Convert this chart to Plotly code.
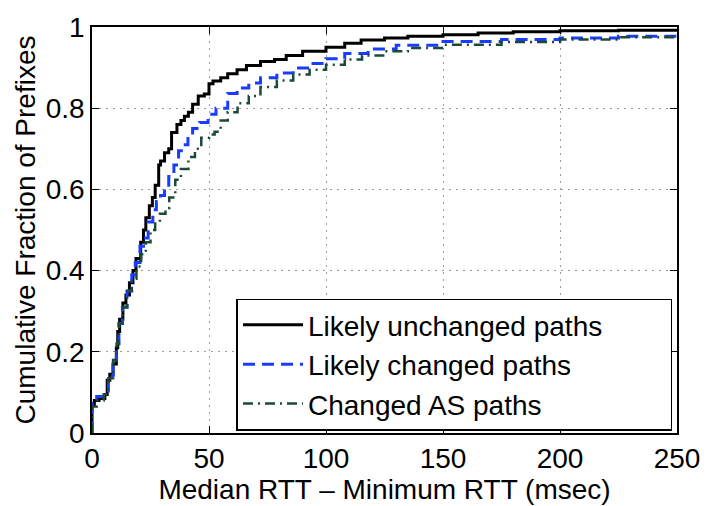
import plotly.graph_objects as go

# Median RTT minus minimum RTT (msec) and cumulative fraction of prefixes
unchanged_x = [0, 0, 1, 3, 5.5, 6.5, 7.6, 9, 10.4, 11, 11.8, 13.2, 14.5, 16, 17.5, 18.8,
               20.8, 22, 23, 24.5, 25.8, 27, 28.5, 29.3, 31, 32.8, 34, 36.3, 38, 39.5,
               41.2, 43, 45.4, 48, 50, 51.7, 55, 58, 62, 66, 72, 78, 83, 90, 100, 108,
               115, 125, 135, 150, 165, 180, 200, 225, 250]
unchanged_y = [0, 0.07, 0.08, 0.085, 0.095, 0.13, 0.145, 0.17, 0.21, 0.25, 0.28, 0.32,
               0.34, 0.37, 0.40, 0.43, 0.47, 0.50, 0.53, 0.56, 0.58, 0.61, 0.66, 0.67,
               0.69, 0.70, 0.74, 0.76, 0.77, 0.78, 0.79, 0.81, 0.83, 0.835, 0.86, 0.867,
               0.875, 0.885, 0.895, 0.905, 0.915, 0.92, 0.93, 0.94, 0.95, 0.96, 0.968,
               0.973, 0.977, 0.981, 0.985, 0.988, 0.991, 0.992, 0.993]

changed_x = [0, 0, 2, 5, 7, 9, 10.5, 11.5, 13, 15, 17, 18.5, 20.5, 22, 24, 26, 27.5,
             29.3, 31, 32.8, 35, 37, 39, 41, 43, 46, 49.6, 53, 58, 62, 67, 72, 79, 86,
             93, 100, 108, 118, 130, 150, 175, 200, 225, 250]
changed_y = [0, 0.08, 0.09, 0.10, 0.14, 0.18, 0.22, 0.27, 0.31, 0.35, 0.39, 0.42, 0.46,
             0.48, 0.52, 0.55, 0.57, 0.585, 0.61, 0.632, 0.66, 0.695, 0.71, 0.73, 0.75,
             0.765, 0.785, 0.80, 0.836, 0.85, 0.862, 0.875, 0.887, 0.899, 0.91, 0.922,
             0.935, 0.946, 0.955, 0.964, 0.969, 0.973, 0.977, 0.981]

as_x = [0, 0, 2, 5, 7, 9, 10.5, 11.5, 13, 15, 17, 19, 21, 23, 25, 27, 29, 31.4, 33,
        35.6, 38, 41.2, 44, 46.7, 50, 52.4, 55, 58, 62.2, 67, 72, 79, 86, 93, 100, 108,
        115.4, 125, 135, 150.4, 175, 200, 225, 250]
as_y = [0, 0.065, 0.08, 0.095, 0.135, 0.18, 0.22, 0.27, 0.31, 0.35, 0.38, 0.41, 0.44,
        0.47, 0.50, 0.52, 0.54, 0.554, 0.58, 0.624, 0.65, 0.68, 0.70, 0.727, 0.735,
        0.742, 0.77, 0.79, 0.812, 0.83, 0.852, 0.868, 0.883, 0.895, 0.907, 0.92, 0.93,
        0.94, 0.948, 0.956, 0.963, 0.969, 0.975, 0.981]

x_ticks = [0, 50, 100, 150, 200, 250]
y_ticks = [0, 0.2, 0.4, 0.6, 0.8, 1]
y_labels = ["0", "0.2", "0.4", "0.6", "0.8", "1"]

FONT = "Liberation Sans, Arial, Helvetica, sans-serif"
FS = 28

fig = go.Figure()
fig.add_trace(go.Scatter(x=unchanged_x, y=unchanged_y, mode="lines", line_shape="hv",
                         name="Likely unchanged paths",
                         line=dict(color="#000000", width=3)))
fig.add_trace(go.Scatter(x=changed_x, y=changed_y, mode="lines", line_shape="hv",
                         name="Likely changed paths",
                         line=dict(color="#1a3cff", width=3, dash="12px,7px")))
fig.add_trace(go.Scatter(x=as_x, y=as_y, mode="lines", line_shape="hv",
                         name="Changed AS paths",
                         line=dict(color="#1c4a36", width=2.5, dash="10px,5px,2px,5px")))

axis_common = dict(
    showline=True, linecolor="black", linewidth=1.5, mirror="ticks",
    ticks="inside", ticklen=7, tickcolor="black", tickwidth=1,
    showgrid=True, gridcolor="#9a9a9a", gridwidth=1, griddash="2px,5px",
    zeroline=False, tickfont=dict(size=FS, color="black", family=FONT),
)

fig.update_xaxes(range=[0, 250], tickvals=x_ticks, **axis_common,
                 title=dict(text="Median RTT \u2013 Minimum RTT (msec)", standoff=0,
                            font=dict(size=FS, color="black", family=FONT)))
fig.update_yaxes(range=[0, 1], tickvals=y_ticks, ticktext=y_labels, **axis_common,
                 title=dict(text="Cumulative Fraction of Prefixes", standoff=2,
                            font=dict(size=FS, color="black", family=FONT)))

# Horizontal legend with fixed entry width so each entry wraps onto its own row
fig.update_layout(
    width=712, height=506,
    margin=dict(l=92, r=25, t=17, b=64),
    plot_bgcolor="white", paper_bgcolor="white",
    font=dict(family=FONT, size=FS, color="black"),
    legend=dict(orientation="h", x=0.247, y=0.331, xanchor="left", yanchor="top",
                bgcolor="white", bordercolor="black", borderwidth=1.5,
                font=dict(size=FS, family=FONT, color="black"),
                itemwidth=60, entrywidth=358, entrywidthmode="pixels",
                tracegroupgap=0),
    showlegend=True,
)

fig.write_html("out.html")
